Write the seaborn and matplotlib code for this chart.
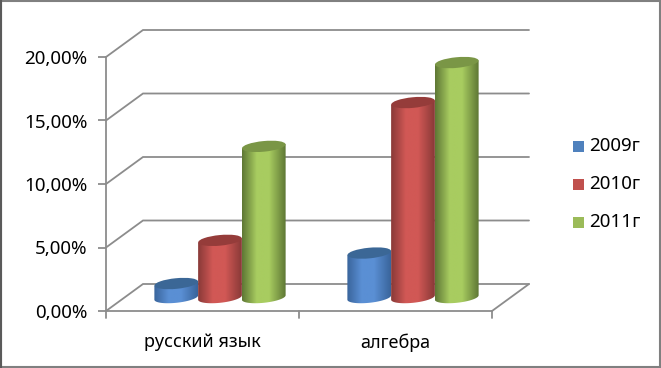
import numpy as np
import pandas as pd
import seaborn as sns
import matplotlib.pyplot as plt
from matplotlib.colors import LinearSegmentedColormap
from matplotlib.patches import Ellipse, PathPatch, Rectangle
from matplotlib.path import Path

# data
subjects = ["русский язык", "алгебра"]
years = ["2009г", "2010г", "2011г"]
values_2009 = [1.1, 3.5]
values_2010 = [4.5, 15.35]
values_2011 = [11.9, 18.5]
y_ticks = [0, 5, 10, 15, 20]

colors = ["#4F81BD", "#C0504D", "#9BBB59"]
side_dark = ["#3A659C", "#8A3A38", "#5F7835"]
side_light = ["#5A8FD4", "#D15855", "#A8CC60"]
top_color = ["#3B6796", "#953C3A", "#7A9646"]

W, H = 661, 368
DEPTH_X, DEPTH_Y = 37, 27  # back wall offset, px

df = pd.DataFrame({
    "subject": subjects * 3,
    "year": np.repeat(years, 2),
    "value": values_2009 + values_2010 + values_2011,
})

sns.set_theme(style="white", rc={"font.family": ["Noto Sans"]})
plt.rcParams["font.family"] = ["Noto Sans"]

fig = plt.figure(figsize=(W / 100, H / 100), dpi=100)
ax = fig.add_axes([106 / W, 1 - 311 / H, 386 / W, 254 / H])
sns.barplot(data=df, x="subject", y="value", hue="year", order=subjects,
            hue_order=years, palette=colors, width=0.68, gap=0, ax=ax,
            legend=False, errorbar=None)
ax.set_ylim(0, 20)
ax.set_xlim(-0.5, 1.5)
ax.set_xlabel("")
ax.set_ylabel("")
ax.set_yticks(y_ticks)
ax.set_yticklabels([f"{t},00%" for t in y_ticks], fontsize=13.5, color="black")
ax.tick_params(axis="y", length=6, width=1.3, color="#8C8C8C", pad=7.5, left=True)
ax.tick_params(axis="x", length=0, pad=16, labelsize=13, labelcolor="black")
ax.patch.set_alpha(0)
for name, spine in ax.spines.items():
    spine.set_visible(name == "left" or name == "bottom")
    spine.set_color("#8C8C8C")
    spine.set_linewidth(1.3)

# overlay in pixel coordinates for the fake 3d parts
over = fig.add_axes([0, 0, 1, 1], zorder=-1)
over.set_xlim(0, W)
over.set_ylim(H, 0)
over.axis("off")

GRID = "#8C8C8C"
for t in y_ticks:
    y = 311 - t * 254 / 20
    over.plot([106, 106 + DEPTH_X, 492 + DEPTH_X], [y, y - DEPTH_Y, y - DEPTH_Y],
              color=GRID, lw=1.3, solid_joinstyle="miter", zorder=1)
# floor, right edge and the x ticks
over.plot([492, 492 + DEPTH_X], [311, 311 - DEPTH_Y], color=GRID, lw=1.3, zorder=1)
for x in [106, 299, 492]:
    over.plot([x, x], [311, 318], color=GRID, lw=1.3, zorder=1)

# outer frame, flush with the image edge
over.add_patch(Rectangle((1, 1), W - 2, H - 2, fill=False, ec="#808080", lw=1.5, zorder=0))
over.plot([1, 1], [0, H], color="#5A5A5A", lw=1.5, zorder=0)

# turn each flat bar into a cylinder, standing mid depth on the floor
top = fig.add_axes([0, 0, 1, 1], zorder=5)
top.set_xlim(0, W)
top.set_ylim(H, 0)
top.axis("off")
fig.canvas.draw()

bars = [p for p in ax.patches if p.get_height() > 0]
for i, bar in enumerate(bars):
    idx = i // 2
    x0_d, y0_d = ax.transData.transform((bar.get_x(), 0))
    x1_d, y1_d = ax.transData.transform((bar.get_x() + bar.get_width(), bar.get_height()))
    x0 = x0_d + DEPTH_X / 2 - 1
    x1 = x1_d + DEPTH_X / 2 - 1
    yb = H - y0_d - DEPTH_Y / 2
    yt = H - y1_d - DEPTH_Y / 2
    bar.set_visible(False)
    w = x1 - x0
    xc = (x0 + x1) / 2
    ry = 5.3
    tilt = 2.2
    # body outline: straight sides, rounded foot
    ts = np.linspace(0, np.pi, 40)
    foot_x = xc + w / 2 * np.cos(ts)
    foot_y = yb + ry * np.sin(ts) - tilt * np.cos(ts)
    verts = [(x0, yt + tilt), (x1, yt - tilt)] + list(zip(foot_x, foot_y)) + [(x0, yt + tilt)]
    clip = PathPatch(Path(verts), transform=top.transData, fc="none", ec="none")
    top.add_patch(clip)
    cmap = LinearSegmentedColormap.from_list(
        "cyl", [side_dark[idx], side_light[idx], side_light[idx], side_dark[idx]])
    grad = np.interp(np.linspace(0, 1, 64), [0, 0.35, 0.6, 1], [0, 0.35, 0.65, 1])[None, :]
    im = top.imshow(grad, cmap=cmap, extent=(x0, x1, yb + 8, yt - 4), aspect="auto",
                    zorder=2, interpolation="bilinear")
    im.set_clip_path(clip)
    top.add_patch(Ellipse((xc, yt), w, 2 * ry, angle=-5.5, fc=top_color[idx], ec="none", zorder=3))
top.set_xlim(0, W)
top.set_ylim(H, 0)

# legend
for name, color, y in zip(years, colors, [146, 184, 222]):
    top.add_patch(Rectangle((573, y - 5), 11, 11, fc=color, ec="none"))
    top.text(589, y, name, fontsize=13.5, va="center", ha="left", color="black")

fig.savefig("out.png", dpi=100, facecolor="white")
